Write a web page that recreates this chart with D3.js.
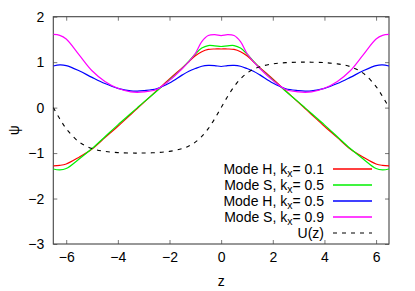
<!DOCTYPE html>
<html>
<head>
<meta charset="utf-8">
<script src="https://cdn.jsdelivr.net/npm/d3@7"></script>
<style>
  html, body { margin: 0; padding: 0; background: #fff; }
  svg { display: block; }
  text { font-family: "Liberation Sans", Arial, Helvetica, sans-serif; fill: #000; }
</style>
</head>
<body>
<svg id="chart" width="415" height="291"></svg>
<script>
// ---- data ----
const zValues = [-6.5,-6.25,-6,-5.5,-5,-4.5,-4,-3.5,-3.25,-3,-2.5,-2,-1.5,-1.25,-1,-0.75,-0.5,-0.25,0,
                 0.25,0.5,0.75,1,1.25,1.5,2,2.5,3,3.25,3.5,4,4.5,5,5.5,6,6.25,6.5];

const modeH01 = [-1.28,-1.27,-1.24,-1.09,-0.91,-0.66,-0.41,-0.15,-0.02,0.11,0.37,0.63,0.88,1.01,1.14,1.23,1.28,1.29,1.29,
                 1.29,1.28,1.23,1.14,1.01,0.88,0.63,0.37,0.11,-0.02,-0.15,-0.41,-0.66,-0.91,-1.09,-1.24,-1.27,-1.28];

const modeS05 = [-1.35,-1.37,-1.34,-1.13,-0.90,-0.64,-0.38,-0.13,-0.005,0.12,0.36,0.61,0.87,1.02,1.18,1.31,1.365,1.36,1.345,
                 1.36,1.365,1.31,1.18,1.02,0.87,0.61,0.36,0.12,-0.005,-0.13,-0.38,-0.64,-0.90,-1.13,-1.34,-1.37,-1.35];

const modeH05 = [0.915,0.94,0.925,0.81,0.665,0.53,0.425,0.37,0.365,0.375,0.415,0.54,0.72,0.80,0.86,0.91,0.93,0.925,0.905,
                 0.925,0.93,0.91,0.86,0.80,0.72,0.54,0.415,0.375,0.365,0.37,0.425,0.53,0.665,0.81,0.925,0.94,0.915];

const modeS09 = [1.61,1.59,1.51,1.16,0.81,0.575,0.425,0.345,0.335,0.345,0.40,0.60,0.86,1.01,1.19,1.45,1.585,1.605,1.585,
                 1.605,1.585,1.45,1.19,1.01,0.86,0.60,0.40,0.345,0.335,0.345,0.425,0.575,0.81,1.16,1.51,1.59,1.61];

const uValues = [0,-0.245,-0.462,-0.758,-0.901,-0.963,-0.989,-0.999,-1.0,-0.999,-0.989,-0.963,-0.901,-0.843,-0.758,-0.633,-0.462,-0.245,0,
                 0.245,0.462,0.633,0.758,0.843,0.901,0.963,0.989,0.999,1.0,0.999,0.989,0.963,0.901,0.758,0.462,0.245,0];

const xTicks = [-6,-4,-2,0,2,4,6];
const yTicks = [-3,-2,-1,0,1,2];

const seriesNames = ["Mode H, k|x|= 0.1", "Mode S, k|x|= 0.5", "Mode H, k|x|= 0.5", "Mode S, k|x|= 0.9", "U(z)"];
const seriesValues = [modeH01, modeS05, modeH05, modeS09, uValues];
const seriesColors = ["#ff0000", "#00f000", "#0000ff", "#ff00ff", "#000000"];
const seriesDash = ["none", "none", "none", "none", "4,5"];

// ---- layout ----
const svg = d3.select("#chart");
const pLeft = 53.3, pRight = 389, pTop = 16.7, pBottom = 244;
const fs = 14;

const x = d3.scaleLinear().domain([-6.5, 6.5]).range([pLeft, pRight]);
const y = d3.scaleLinear().domain([-3, 2]).range([pBottom, pTop]);

svg.append("defs").append("clipPath").attr("id", "clip")
  .append("rect").attr("x", pLeft).attr("y", pTop).attr("width", pRight - pLeft).attr("height", pBottom - pTop);

// axes with inward ticks (gnuplot style), mirrored
const tickLen = 4;
const axB = svg.append("g").attr("transform", `translate(0,${pBottom})`)
  .call(d3.axisBottom(x).tickValues(xTicks).tickSizeInner(-tickLen).tickSizeOuter(0).tickPadding(8).tickFormat(d3.format("d")));
const axT = svg.append("g").attr("transform", `translate(0,${pTop})`)
  .call(d3.axisTop(x).tickValues(xTicks).tickSizeInner(-tickLen).tickSizeOuter(0).tickFormat(""));
const axL = svg.append("g").attr("transform", `translate(${pLeft},0)`)
  .call(d3.axisLeft(y).tickValues(yTicks).tickSizeInner(-tickLen).tickSizeOuter(0).tickPadding(9).tickFormat(d3.format("d")));
const axR = svg.append("g").attr("transform", `translate(${pRight},0)`)
  .call(d3.axisRight(y).tickValues(yTicks).tickSizeInner(-tickLen).tickSizeOuter(0).tickFormat(""));

[axB, axT, axL, axR].forEach(g => {
  g.select(".domain").remove();
  g.selectAll(".tick line").attr("stroke", "#777").attr("stroke-width", 1);
  g.selectAll(".tick text").attr("font-size", fs).attr("font-family", "Liberation Sans, Arial, sans-serif").attr("fill", "#000");
});

// border box
svg.append("rect").attr("x", pLeft).attr("y", pTop).attr("width", pRight - pLeft).attr("height", pBottom - pTop)
  .attr("fill", "none").attr("stroke", "#444").attr("stroke-width", 1.1);

// lines
const lineGen = d3.line().x((d, i) => x(zValues[i])).y(d => y(d)).curve(d3.curveCatmullRom.alpha(0.5));
const plotG = svg.append("g").attr("clip-path", "url(#clip)");
seriesValues.forEach((vals, i) => {
  plotG.append("path").datum(vals).attr("d", lineGen)
    .style("fill", "none").style("stroke", seriesColors[i])
    .style("stroke-width", i === 4 ? 1.1 : 1.2)
    .style("stroke-dasharray", seriesDash[i]);
});

// axis labels
svg.append("text").attr("x", x(0)).attr("y", 286).attr("text-anchor", "middle").attr("font-size", fs).text("z");
svg.append("text").attr("transform", `translate(19,${(pTop + pBottom) / 2}) rotate(-90)`)
  .attr("text-anchor", "middle").attr("font-size", fs).text("ψ");

// legend
const legTextX = 324, legLineX1 = 333, legLineX2 = 372;
const legY0 = 169, legStep = 16;
const legend = svg.append("g");
seriesNames.forEach((name, i) => {
  const yy = legY0 + i * legStep;
  const t = legend.append("text").attr("x", legTextX).attr("y", yy + 5).attr("text-anchor", "end").attr("font-size", fs);
  const parts = name.split("|");
  if (parts.length === 3) {
    t.append("tspan").text(parts[0]);
    t.append("tspan").attr("dy", 3).attr("font-size", 10.5).text(parts[1]);
    t.append("tspan").attr("dy", -3).text(parts[2]);
  } else {
    t.text(name);
  }
  legend.append("path")
    .attr("d", d3.line()([[legLineX1, yy], [legLineX2, yy]]))
    .style("fill", "none")
    .style("stroke", seriesColors[i])
    .style("stroke-width", i === 4 ? 1.2 : 1.5)
    .style("stroke-dasharray", seriesDash[i]);
});
</script>
</body>
</html>
